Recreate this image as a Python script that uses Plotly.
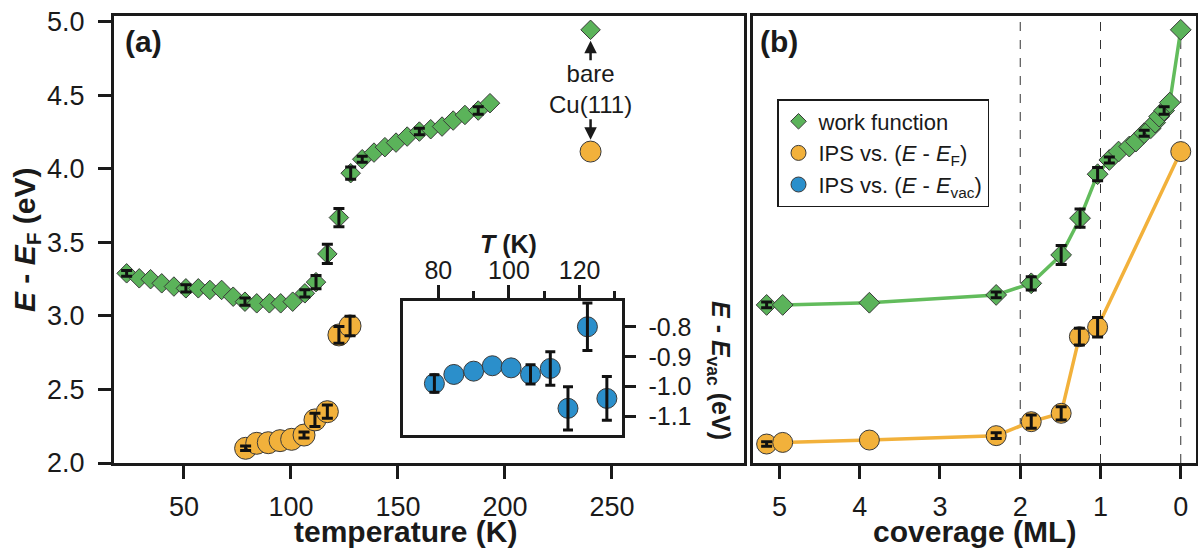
import plotly.graph_objects as go

# ---------------- data ----------------
# panel (a): work function vs temperature
T_wf = [23.2, 29.1, 34.4, 39.6, 45.3, 50.9, 56.7, 62.1, 67.6, 73.0, 78.5, 84.0, 89.9, 95.2,
        100.8, 106.5, 111.7, 117.0, 122.4, 127.9, 133.3, 138.8, 143.9, 149.1, 154.3, 160.0,
        165.3, 170.6, 175.8, 181.3, 187.5, 193.0]
wf_T = [3.290, 3.256, 3.250, 3.222, 3.200, 3.188, 3.188, 3.177, 3.177, 3.131, 3.097, 3.086,
        3.086, 3.086, 3.097, 3.154, 3.230, 3.422, 3.669, 3.971, 4.066, 4.111, 4.148, 4.179,
        4.220, 4.254, 4.270, 4.288, 4.329, 4.367, 4.397, 4.447]
wf_T_err = [0.02, 0, 0, 0, 0, 0.025, 0, 0, 0, 0, 0.025, 0, 0, 0, 0, 0.025, 0.045, 0.065,
            0.062, 0.042, 0.02, 0, 0, 0, 0, 0.022, 0, 0, 0, 0, 0.025, 0]

# panel (a): IPS vs (E - E_F)
T_ips = [78.8, 84.0, 89.4, 94.9, 100.3, 106.1, 111.2, 117.0, 122.4, 127.6]
ips_F = [2.100, 2.134, 2.138, 2.152, 2.161, 2.190, 2.293, 2.349, 2.871, 2.932]
ips_F_err = [0.015, 0, 0, 0, 0, 0.02, 0.045, 0.045, 0.057, 0.066]

# inset: IPS vs (E - E_vac)
T_vac = [78.9, 84.4, 90.0, 95.3, 100.6, 106.1, 111.7, 116.7, 122.2, 127.7]
ips_vac = [-0.989, -0.959, -0.948, -0.930, -0.937, -0.959, -0.939, -1.072, -0.800, -1.039]
ips_vac_err = [0.029, 0, 0, 0, 0, 0.032, 0.056, 0.072, 0.079, 0.073]

# bare Cu(111)
T_bare = [240.0]
wf_bare = [4.946]
ips_bare = [4.118]

# panel (b): vs coverage
cov_wf = [5.16, 4.96, 3.88, 2.30, 1.863, 1.49, 1.255, 1.036, 0.89, 0.775, 0.642, 0.559,
          0.456, 0.373, 0.319, 0.27, 0.207, 0.137, 0.0]
wf_cov = [3.075, 3.075, 3.090, 3.143, 3.222, 3.415, 3.665, 3.964, 4.061, 4.118, 4.152,
          4.186, 4.243, 4.277, 4.315, 4.356, 4.397, 4.451, 4.946]
wf_cov_err = [0.02, 0, 0, 0.02, 0.045, 0.065, 0.062, 0.045, 0.02, 0, 0, 0, 0.02, 0, 0, 0,
              0.025, 0, 0]
cov_ips = [5.16, 4.96, 3.88, 2.30, 1.863, 1.49, 1.263, 1.036, 0.0]
ips_cov = [2.129, 2.140, 2.156, 2.186, 2.281, 2.338, 2.859, 2.923, 4.118]
ips_cov_err = [0.015, 0, 0, 0.02, 0.045, 0.045, 0.057, 0.066, 0]

dashed_cov = [2, 1, 0]

T_ticks = [50, 100, 150, 200, 250]
E_ticks = [2.0, 2.5, 3.0, 3.5, 4.0, 4.5, 5.0]
cov_ticks = [5, 4, 3, 2, 1, 0]
inset_T_ticks = [80, 100, 120]
inset_T_minor = [70, 90, 110, 130]
inset_E_ticks = [-0.8, -0.9, -1.0, -1.1]
inset_E_labels = ["-0.8", "-0.9", "-1.0", "-1.1"]

# ---------------- style ----------------
W, H = 1198, 551
GREEN = "#5BB35A"
ORANGE = "#F2B13B"
BLUE = "#2B8FCB"
EDGE = "#3a3a3a"
AX = "#1a1a1a"
FONT = "Liberation Sans, Arial, sans-serif"


def px(x):
    return x / W


def py(y):
    return 1 - y / H


def err_subset(xs, ys, es):
    sel = [(x, y, e) for x, y, e in zip(xs, ys, es) if e > 0]
    return [s[0] for s in sel], [s[1] for s in sel], [s[2] for s in sel]


def err_trace(xs, ys, es, xa, ya, w=5.5):
    ex, ey, ee = err_subset(xs, ys, es)
    return go.Scatter(x=ex, y=ey, mode="markers", xaxis=xa, yaxis=ya,
                      marker=dict(size=1, opacity=0), showlegend=False, hoverinfo="skip",
                      error_y=dict(type="data", array=ee, visible=True, color="#111111",
                                   thickness=3, width=w))


fig = go.Figure()

# panel (a)
fig.add_trace(go.Scatter(x=T_wf, y=wf_T, mode="markers", xaxis="x", yaxis="y", showlegend=False,
                         marker=dict(symbol="diamond", size=15, color=GREEN,
                                     line=dict(color=EDGE, width=1))))
fig.add_trace(go.Scatter(x=T_ips, y=ips_F, mode="markers", xaxis="x", yaxis="y", showlegend=False,
                         marker=dict(symbol="circle", size=22, color=ORANGE,
                                     line=dict(color=EDGE, width=1))))
fig.add_trace(go.Scatter(x=T_bare, y=wf_bare, mode="markers", xaxis="x", yaxis="y", showlegend=False,
                         marker=dict(symbol="diamond", size=15, color=GREEN,
                                     line=dict(color=EDGE, width=1))))
fig.add_trace(go.Scatter(x=T_bare, y=ips_bare, mode="markers", xaxis="x", yaxis="y", showlegend=False,
                         marker=dict(symbol="circle", size=21, color=ORANGE,
                                     line=dict(color=EDGE, width=1))))
fig.add_trace(err_trace(T_wf, wf_T, wf_T_err, "x", "y"))
fig.add_trace(err_trace(T_ips, ips_F, ips_F_err, "x", "y"))

# inset
fig.add_trace(go.Scatter(x=T_vac, y=ips_vac, mode="markers", xaxis="x3", yaxis="y3", showlegend=False,
                         marker=dict(symbol="circle", size=20, color=BLUE,
                                     line=dict(color=EDGE, width=1))))
fig.add_trace(err_trace(T_vac, ips_vac, ips_vac_err, "x3", "y3", w=5))

# panel (b)
fig.add_trace(go.Scatter(x=cov_wf, y=wf_cov, mode="lines+markers", xaxis="x2", yaxis="y2",
                         showlegend=False, line=dict(color="#62BC5C", width=3.5),
                         marker=dict(symbol="diamond", size=16, color=GREEN,
                                     line=dict(color=EDGE, width=1))))
fig.add_trace(go.Scatter(x=cov_ips, y=ips_cov, mode="lines+markers", xaxis="x2", yaxis="y2",
                         showlegend=False, line=dict(color=ORANGE, width=3.5),
                         marker=dict(symbol="circle", size=20, color=ORANGE,
                                     line=dict(color=EDGE, width=1))))
fig.add_trace(err_trace(cov_wf, wf_cov, wf_cov_err, "x2", "y2"))
fig.add_trace(err_trace(cov_ips, ips_cov, ips_cov_err, "x2", "y2"))

# legend entries
fig.add_trace(go.Scatter(x=[None], y=[None], mode="markers", xaxis="x2", yaxis="y2",
                         name="work function",
                         marker=dict(symbol="diamond", size=12, color=GREEN,
                                     line=dict(color=EDGE, width=1))))
fig.add_trace(go.Scatter(x=[None], y=[None], mode="markers", xaxis="x2", yaxis="y2",
                         name="IPS vs. (<i>E</i> - <i>E</i><sub>F</sub>)",
                         marker=dict(symbol="circle", size=15, color=ORANGE,
                                     line=dict(color=EDGE, width=1))))
fig.add_trace(go.Scatter(x=[None], y=[None], mode="markers", xaxis="x2", yaxis="y2",
                         name="IPS vs. (<i>E</i> - <i>E</i><sub>vac</sub>)",
                         marker=dict(symbol="circle", size=15, color=BLUE,
                                     line=dict(color=EDGE, width=1))))

axis_common = dict(showgrid=False, zeroline=False, showline=True, linewidth=3, linecolor=AX,
                   mirror=True, ticks="outside", tickcolor=AX, tickwidth=3, automargin=False,
                   tickfont=dict(family=FONT, size=27, color=AX))
inset_font = dict(family=FONT, size=25, color=AX)

ydom = [py(463), py(16)]
fig.update_layout(
    width=W, height=H, margin=dict(l=0, r=0, t=0, b=0, autoexpand=False),
    paper_bgcolor="white", plot_bgcolor="rgba(0,0,0,0)",
    font=dict(family=FONT, color=AX),
    xaxis=dict(domain=[px(114), px(744)], range=[17.3, 311.7], anchor="y",
               tickvals=T_ticks, ticklen=13, ticklabelstandoff=5, **axis_common),
    yaxis=dict(domain=ydom, range=[2.0, 5.04], anchor="x",
               tickvals=E_ticks, tickformat=".1f", ticklen=13, ticklabelstandoff=8,
               **axis_common),
    xaxis2=dict(domain=[px(753), px(1196)], range=[5.33, -0.19], anchor="y2",
                tickvals=cov_ticks, ticklen=13, ticklabelstandoff=5, **axis_common),
    yaxis2=dict(domain=ydom, range=[2.0, 5.04], anchor="x2", showticklabels=False,
                **{**axis_common, "ticks": ""}),
    xaxis3=dict(domain=[px(403.3), px(621.7)], range=[70.1, 131.9], anchor="y3", side="top",
                tickvals=inset_T_ticks, ticklen=13, ticklabelstandoff=-4,
                minor=dict(tickvals=inset_T_minor, ticklen=7, tickwidth=3, tickcolor=AX,
                           ticks="outside", showgrid=False),
                **{**axis_common, "linewidth": 2.5, "tickfont": inset_font}),
    yaxis3=dict(domain=[py(435), py(300.7)], range=[-1.161, -0.713], anchor="x3", side="right",
                tickvals=inset_E_ticks, ticktext=inset_E_labels, ticklen=12, ticklabelstandoff=7,
                **{**axis_common, "linewidth": 2.5, "tickfont": inset_font}),
    legend=dict(x=px(777), y=py(99), xanchor="left", yanchor="top",
                bgcolor="white", bordercolor=AX, borderwidth=1.5,
                font=dict(family=FONT, size=22, color=AX),
                tracegroupgap=0, itemwidth=30),
    showlegend=True,
)

shapes = []
for c in dashed_cov:
    shapes.append(dict(type="line", xref="x2", yref="y2 domain", x0=c, x1=c, y0=0, y1=1,
                       line=dict(color="#333333", width=1, dash="dash"), layer="below"))
fig.update_layout(shapes=shapes)

ann = []
def txt(text, x, y, size, bold=False, angle=0, xanchor="center", xref="paper", yref="paper"):
    ann.append(dict(text=(f"<b>{text}</b>" if bold else text), x=x, y=y, xref=xref, yref=yref,
                    showarrow=False, textangle=angle, xanchor=xanchor, yanchor="middle",
                    font=dict(family=FONT, size=size, color=AX)))

txt("(a)", px(123), py(42), 30, bold=True, xanchor="left")
txt("(b)", px(758), py(42), 30, bold=True, xanchor="left")
txt("temperature (K)", px(405), py(531), 30, bold=True)
txt("coverage (ML)", px(974), py(531), 30, bold=True)
txt("<i>E</i> - <i>E</i><sub>F</sub> (eV)", px(26), py(240), 30, bold=True, angle=-90)
txt("<i>T</i> (K)", px(508), py(244), 25, bold=True)
txt("<i>E</i> - <i>E</i><sub>vac</sub> (eV)", px(719), py(370), 25, bold=True, angle=90)
ann.append(dict(text="bare<br>Cu(111)", x=T_bare[0], y=py(89), xref="x", yref="paper",
                yanchor="middle", xanchor="center",
                showarrow=False, font=dict(family=FONT, size=24, color=AX)))
# arrows toward the bare Cu(111) markers
ann.append(dict(text="", x=T_bare[0], y=wf_bare[0] - 0.075, xref="x", yref="y",
                ax=0, ay=21, showarrow=True, arrowhead=2, arrowsize=1, arrowwidth=2.5,
                arrowcolor=AX))
ann.append(dict(text="", x=T_bare[0], y=ips_bare[0] + 0.08, xref="x", yref="y",
                ax=0, ay=-22, showarrow=True, arrowhead=2, arrowsize=1, arrowwidth=2.5,
                arrowcolor=AX))
fig.update_layout(annotations=ann)

fig.write_html("out.html")
